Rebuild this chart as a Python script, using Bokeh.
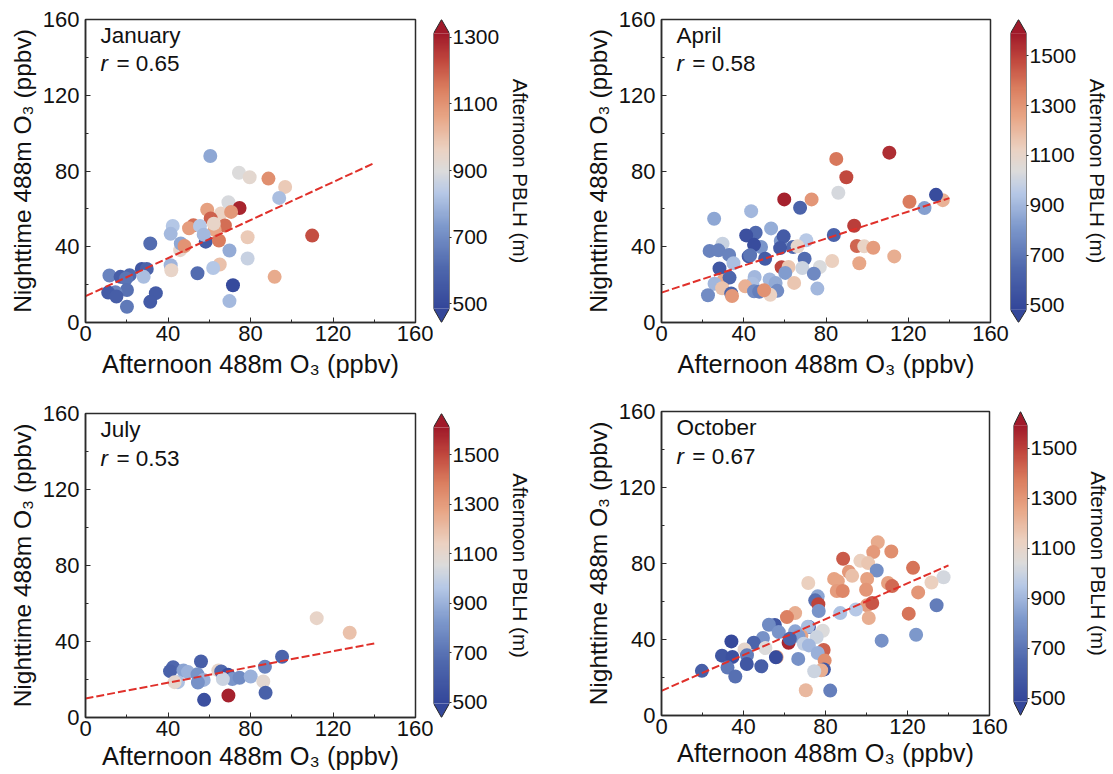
import numpy as np
from bokeh.embed import file_html
from bokeh.layouts import column, row
from bokeh.models import ColumnDataSource, FixedTicker, Label, LinearColorMapper, Range1d
from bokeh.plotting import figure
from bokeh.resources import INLINE

# January
jan_x = [60.5, 74.4, 79.6, 88.7, 96.8, 93.9, 69.3, 74.7, 59, 65.6, 70.6, 60.7, 52.3, 67.6, 42.3, 50.2, 55.5, 62.6,
         41.3, 58.3, 57.3, 62.2, 78.6, 109.9, 64.7, 45.9, 46.2, 31.4, 48, 69.8, 78.6, 41.3, 65.1, 61.9, 41.6, 27.3,
         29.7, 54.3, 91.7, 28.2, 11.6, 17, 21.4, 19.7, 71.5, 20.1, 14.5, 11, 15, 34.1, 31.4, 69.8, 20.1]
jan_y = [87.9, 79.1, 76.7, 76, 71.6, 65.8, 63.5, 60.5, 59.6, 57.5, 58.4, 54.9, 51.3, 51.2, 51, 49.8, 51, 49,
         46.8, 42.7, 46.4, 52.2, 45, 45.9, 43.3, 38.2, 41.7, 41.7, 40.4, 38, 33.8, 30.2, 30.6, 28.8, 27.6, 28.3,
         28.3, 26, 24.1, 24.1, 24.8, 24.1, 25, 23.2, 19.7, 17.2, 16, 15.8, 13.7, 15.5, 10.9, 11.3, 8.3]
jan_pblh = [760, 900, 930, 1110, 980, 810, 890, 1290, 1070, 960, 1090, 1190, 1170, 1170, 830, 1080, 830, 1060,
            800, 560, 800, 950, 980, 1220, 1150, 940, 760, 620, 1100, 770, 860, 790, 1000, 830, 950, 540,
            590, 620, 1050, 810, 680, 570, 610, 640, 500, 630, 680, 560, 570, 560, 560, 800, 650]

# April
apr_x = [110.8, 85, 89.9, 86, 136.8, 133.5, 59.7, 73, 120.6, 67.4, 127.9, 43.6, 25.6, 53.3, 93.7, 45.8, 41.2, 58,
         59.4, 83.8, 70.4, 29.7, 48.4, 45, 64, 66.2, 95, 98.6, 103, 23.4, 27.7, 57.7, 32.9, 113.2, 42.4, 43.1, 50.4,
         69.6, 35, 83, 96.2, 58.4, 61.8, 68.5, 77, 28.2, 60.2, 74.1, 45.3, 30, 33.1, 52.6, 55.5, 25.8, 44.2, 64.5,
         40.7, 29.5, 75.8, 33.9, 45, 56.3, 47.5, 52.9, 49.9, 22.6, 34.3]
apr_y = [89.7, 86.4, 76.7, 68.5, 64.6, 67.4, 65, 65, 63.8, 60.6, 60.4, 58.8, 54.8, 49.7, 51.1, 47.4, 46, 43,
         45.5, 46.2, 43.4, 41.6, 39.9, 41, 39.9, 40.2, 40.4, 40.2, 39.5, 37.8, 38.1, 39.3, 35.7, 34.9, 34.9, 35.5, 33.7,
         33.7, 31.3, 32.5, 31.3, 29.2, 29.3, 28.8, 29.3, 28.5, 26.2, 25.8, 24, 22, 23.7, 22.7, 20.9, 20.5, 20.5, 20.9,
         19.1, 18.1, 17.9, 15.3, 16.5, 16.7, 16.3, 14.6, 17, 14.4, 14]
apr_pblh = [1540, 1380, 1480, 1020, 1220, 510, 1570, 1300, 1370, 620, 830, 900, 850, 870, 1500, 650, 530, 800,
            580, 620, 950, 990, 800, 510, 650, 1090, 1420, 1110, 1280, 740, 740, 570, 740, 1230, 580, 690, 580,
            660, 920, 1130, 1250, 1490, 1160, 1000, 1030, 560, 820, 760, 900, 1240, 640, 900, 860, 900, 920, 1160,
            1220, 1170, 900, 630, 770, 770, 720, 1120, 1310, 770, 1290]

# July
jul_x = [112.1, 128.1, 95.3, 56, 87, 42.5, 41, 47.5, 49.7, 64.4, 65.8, 54.3, 69.1, 57.3, 71.2, 66.6, 74.7, 80.1,
         54.5, 44.8, 43.2, 86.2, 87.3, 69.3, 57.5]
jul_y = [52.3, 44.6, 32, 29.5, 26.7, 26.5, 24.4, 24.8, 23.9, 24.8, 24.2, 22.7, 22.5, 19.8, 20.2, 20.2, 20.9, 21.6,
         18.4, 18.6, 18.6, 19, 13, 11.6, 9.3]
jul_pblh = [1120, 1190, 640, 620, 750, 660, 630, 860, 900, 1110, 660, 810, 530, 900, 820, 1010, 780, 900,
            800, 940, 1100, 1090, 630, 1590, 540]

# October
oct_x = [105.5, 103.3, 112.1, 88.6, 97, 100.8, 122.7, 105, 91.4, 93, 84.2, 86, 137.6, 131.7, 71.6, 110.5, 112.5, 100.3,
         85.5, 88.4, 99.8, 125.2, 76.2, 75, 76.5, 100.3, 102.8, 76.7, 134.2, 65.2, 61.2, 87.2, 94.8, 120.6, 101.1, 55.3,
         52.4, 57.2, 71.9, 71.4, 68.2, 65.2, 78.7, 75.7, 66.8, 49.5, 62, 62.6, 34.1, 45, 107.4, 124.2, 69.4, 71.9,
         40.5, 50.7, 79.1, 29.5, 34.6, 41.7, 76.2, 56.2, 55.8, 79.6, 66.7, 41.6, 48.7, 32.2, 19.7, 36, 79.2, 77.9,
         74.5, 70.4, 82.3]
oct_y = [91.2, 86, 86.3, 82.5, 81.4, 80.2, 77.7, 76.3, 75.6, 73.5, 71.9, 70.7, 72.8, 70, 69.7, 69.7, 68.1, 71.9,
         65.5, 65.5, 66.2, 64.8, 62.7, 60.6, 58.6, 58, 59.2, 55, 58, 53.9, 51.8, 53.9, 55.8, 53.6, 51.3, 47.6,
         47.8, 43.9, 46.6, 46.7, 41.8, 44.3, 44.6, 41.3, 41.8, 40.8, 38.3, 40.4, 39, 38.3, 39.4, 42.5, 37.8, 36.9,
         34.8, 35.5, 34.5, 31.5, 30.8, 31.7, 32.9, 30.8, 30.6, 28.9, 29.8, 27.1, 25.9, 25.2, 23.5, 20.5, 24.2, 23.8,
         23.3, 13.3, 13.1]
oct_pblh = [1240, 1290, 1320, 1440, 1130, 1160, 1390, 780, 1290, 1180, 1260, 1260, 1020, 1130, 1130, 1270, 1410, 1270,
            1280, 1340, 1300, 1300, 850, 680, 1490, 1280, 1450, 800, 720, 1230, 1360, 930, 950, 1390, 1230, 570,
            770, 800, 550, 920, 1260, 850, 1040, 1000, 830, 790, 1560, 620, 500, 630, 790, 810, 980, 900,
            1090, 1040, 1430, 560, 540, 720, 880, 1250, 510, 1320, 790, 570, 600, 710, 600, 680, 570, 1230,
            1000, 1200, 730]

months = ["January", "April", "July", "October"]
r_values = ["0.65", "0.58", "0.53", "0.67"]
fit_lines = [([0, 140], [13.9, 84.2]), ([0, 140], [15.8, 65.7]), ([0, 140], [10, 39]), ([0, 140], [13, 79])]
xy_ticks = [0, 40, 80, 120, 160]
xy_minor = [20, 60, 100, 140]

FONT = "Liberation Sans"
INK = "#2b2b2b"

# colorbar body (vmin, vmax), tips of the arrows, tick values
limits = [(485, 1312), (480, 1591), (495, 1610), (486, 1590)]
tips = [(443, 1354), (429, 1646), (438, 1666), (430, 1647)]
cbar_ticks = [[500, 700, 900, 1100, 1300], [500, 700, 900, 1100, 1300, 1500],
              [500, 700, 900, 1100, 1300, 1500], [500, 700, 900, 1100, 1300, 1500]]

# blue - grey - red ramp
stops = [0.0, 0.15, 0.3, 0.42, 0.5, 0.58, 0.7, 0.8, 0.9, 1.0]
stop_colors = ["#34479a", "#5069ae", "#7f9acd", "#b7c9e7", "#dcdcdc", "#ecd2c2", "#e8a585", "#db7f60", "#c2493f", "#a01a2a"]


def make_palette():
    rgb = np.array([[int(c[i:i + 2], 16) for i in (1, 3, 5)] for c in stop_colors], dtype=float)
    t = np.linspace(0, 1, 256)
    chans = [np.interp(t, stops, rgb[:, k]) for k in range(3)]
    return ["#%02x%02x%02x" % (int(a), int(b), int(c)) for a, b, c in zip(*chans)]


palette = make_palette()


def panel(x, y, pblh, idx, width, height, left, right, top, bottom, xgap):
    vmin, vmax = limits[idx]
    p = figure(width=width, height=height, x_range=Range1d(0, 160), y_range=Range1d(0, 160),
               toolbar_location=None, output_backend="svg",
               min_border_left=left, min_border_right=right, min_border_top=top, min_border_bottom=bottom,
               x_axis_label="Afternoon 488m O\u2083 (ppbv)", y_axis_label="Nighttime 488m O\u2083 (ppbv)")
    p.grid.visible = False
    p.outline_line_color = INK
    p.outline_line_width = 1.5
    for ax in (p.xaxis[0], p.yaxis[0]):
        ax.ticker = FixedTicker(ticks=xy_ticks, minor_ticks=xy_minor)
        ax.major_tick_in = 5
        ax.major_tick_out = 0
        ax.minor_tick_in = 3
        ax.minor_tick_out = 0
        ax.axis_line_color = INK
        ax.axis_line_width = 1.5
        ax.major_tick_line_color = INK
        ax.minor_tick_line_color = INK
        ax.major_label_text_font = FONT
        ax.major_label_text_font_size = "22px"
        ax.major_label_text_color = "#111111"
        ax.axis_label_text_font = FONT
        ax.axis_label_text_font_style = "normal"
        ax.axis_label_text_color = "#111111"
    p.xaxis[0].axis_label_text_font_size = "25.4px"
    p.yaxis[0].axis_label_text_font_size = "24.5px"
    p.xaxis[0].major_label_standoff = 3
    p.xaxis[0].axis_label_standoff = xgap
    p.yaxis[0].major_label_standoff = 6
    p.yaxis[0].axis_label_standoff = 4

    mapper = LinearColorMapper(palette=palette, low=vmin, high=vmax)
    src = ColumnDataSource(dict(x=x, y=y, pblh=pblh))
    p.scatter("x", "y", source=src, size=14, line_color=None, fill_color=dict(field="pblh", transform=mapper))
    p.line(fit_lines[idx][0], fit_lines[idx][1], line_color="#e0302a", line_width=2, line_dash="8 3")

    text = dict(text_font=FONT, text_font_size="22.5px", text_color="#111111")
    p.add_layout(Label(x=7.3, y=145, text=months[idx], **text))
    p.add_layout(Label(x=7.3, y=130, text="r", text_font_style="italic", **text))
    p.add_layout(Label(x=15, y=130, text="= " + r_values[idx], **text))
    return p


def colorbar(idx, width, height, left, right, top, bottom):
    vmin, vmax = limits[idx]
    lo, hi = tips[idx]
    p = figure(width=width, height=height, x_range=Range1d(0, 1), y_range=Range1d(lo, hi),
               toolbar_location=None, output_backend="svg", y_axis_location="right",
               min_border_left=left, min_border_right=right, min_border_top=top, min_border_bottom=bottom,
               y_axis_label="Afternoon PBLH (m)")
    p.grid.visible = False
    p.outline_line_color = None
    p.xaxis.visible = False
    ax = p.yaxis[0]
    ax.ticker = FixedTicker(ticks=cbar_ticks[idx])
    ax.axis_line_color = None
    ax.major_tick_in = 0
    ax.major_tick_out = 2
    ax.minor_tick_in = 0
    ax.minor_tick_out = 0
    ax.major_tick_line_color = INK
    ax.major_label_text_font = FONT
    ax.major_label_text_font_size = "21px"
    ax.major_label_text_color = "#111111"
    ax.major_label_standoff = 1
    ax.axis_label_text_font = FONT
    ax.axis_label_text_font_size = "20.5px"
    ax.axis_label_text_font_style = "normal"
    ax.axis_label_text_color = "#111111"
    ax.axis_label_standoff = 7

    mapper = LinearColorMapper(palette=palette, low=vmin, high=vmax)
    ramp = np.linspace(vmin, vmax, 256).reshape(-1, 1)
    p.image(image=[ramp], x=0, y=vmin, dw=1, dh=vmax - vmin, color_mapper=mapper)
    p.patch([0, 0.5, 1], [vmax, hi, vmax], fill_color=palette[-1], line_color=None)
    p.patch([0, 0.5, 1], [vmin, lo, vmin], fill_color=palette[0], line_color=None)
    p.patch([0, 0, 0.5, 1, 1, 0.5], [vmin, vmax, hi, vmax, vmin, lo], fill_color=None, line_color=INK, line_width=1)
    return p


# top row
p1 = panel(jan_x, jan_y, jan_pblh, 0, 433, 390, 85, 18, 19, 68, 6)
c1 = colorbar(0, 147, 390, 0, 131, 19, 68)
p2 = panel(apr_x, apr_y, apr_pblh, 1, 430, 390, 81, 20, 19, 68, 6)
c2 = colorbar(1, 103, 390, 0, 87, 19, 68)

# bottom row, nested so October can sit a little higher than July
p3 = panel(jul_x, jul_y, jul_pblh, 2, 433, 384, 85, 18, 23, 57, 3)
c3 = colorbar(2, 147, 384, 0, 131, 23, 57)
p4 = panel(oct_x, oct_y, oct_pblh, 3, 433, 384, 81, 24, 21, 59, 2)
c4 = colorbar(3, 100, 384, 0, 84, 21, 59)

page = column(row(p1, c1, p2, c2), row(row(p3, c3), row(p4, c4)))
open("out.html", "w").write(file_html(page, INLINE))
